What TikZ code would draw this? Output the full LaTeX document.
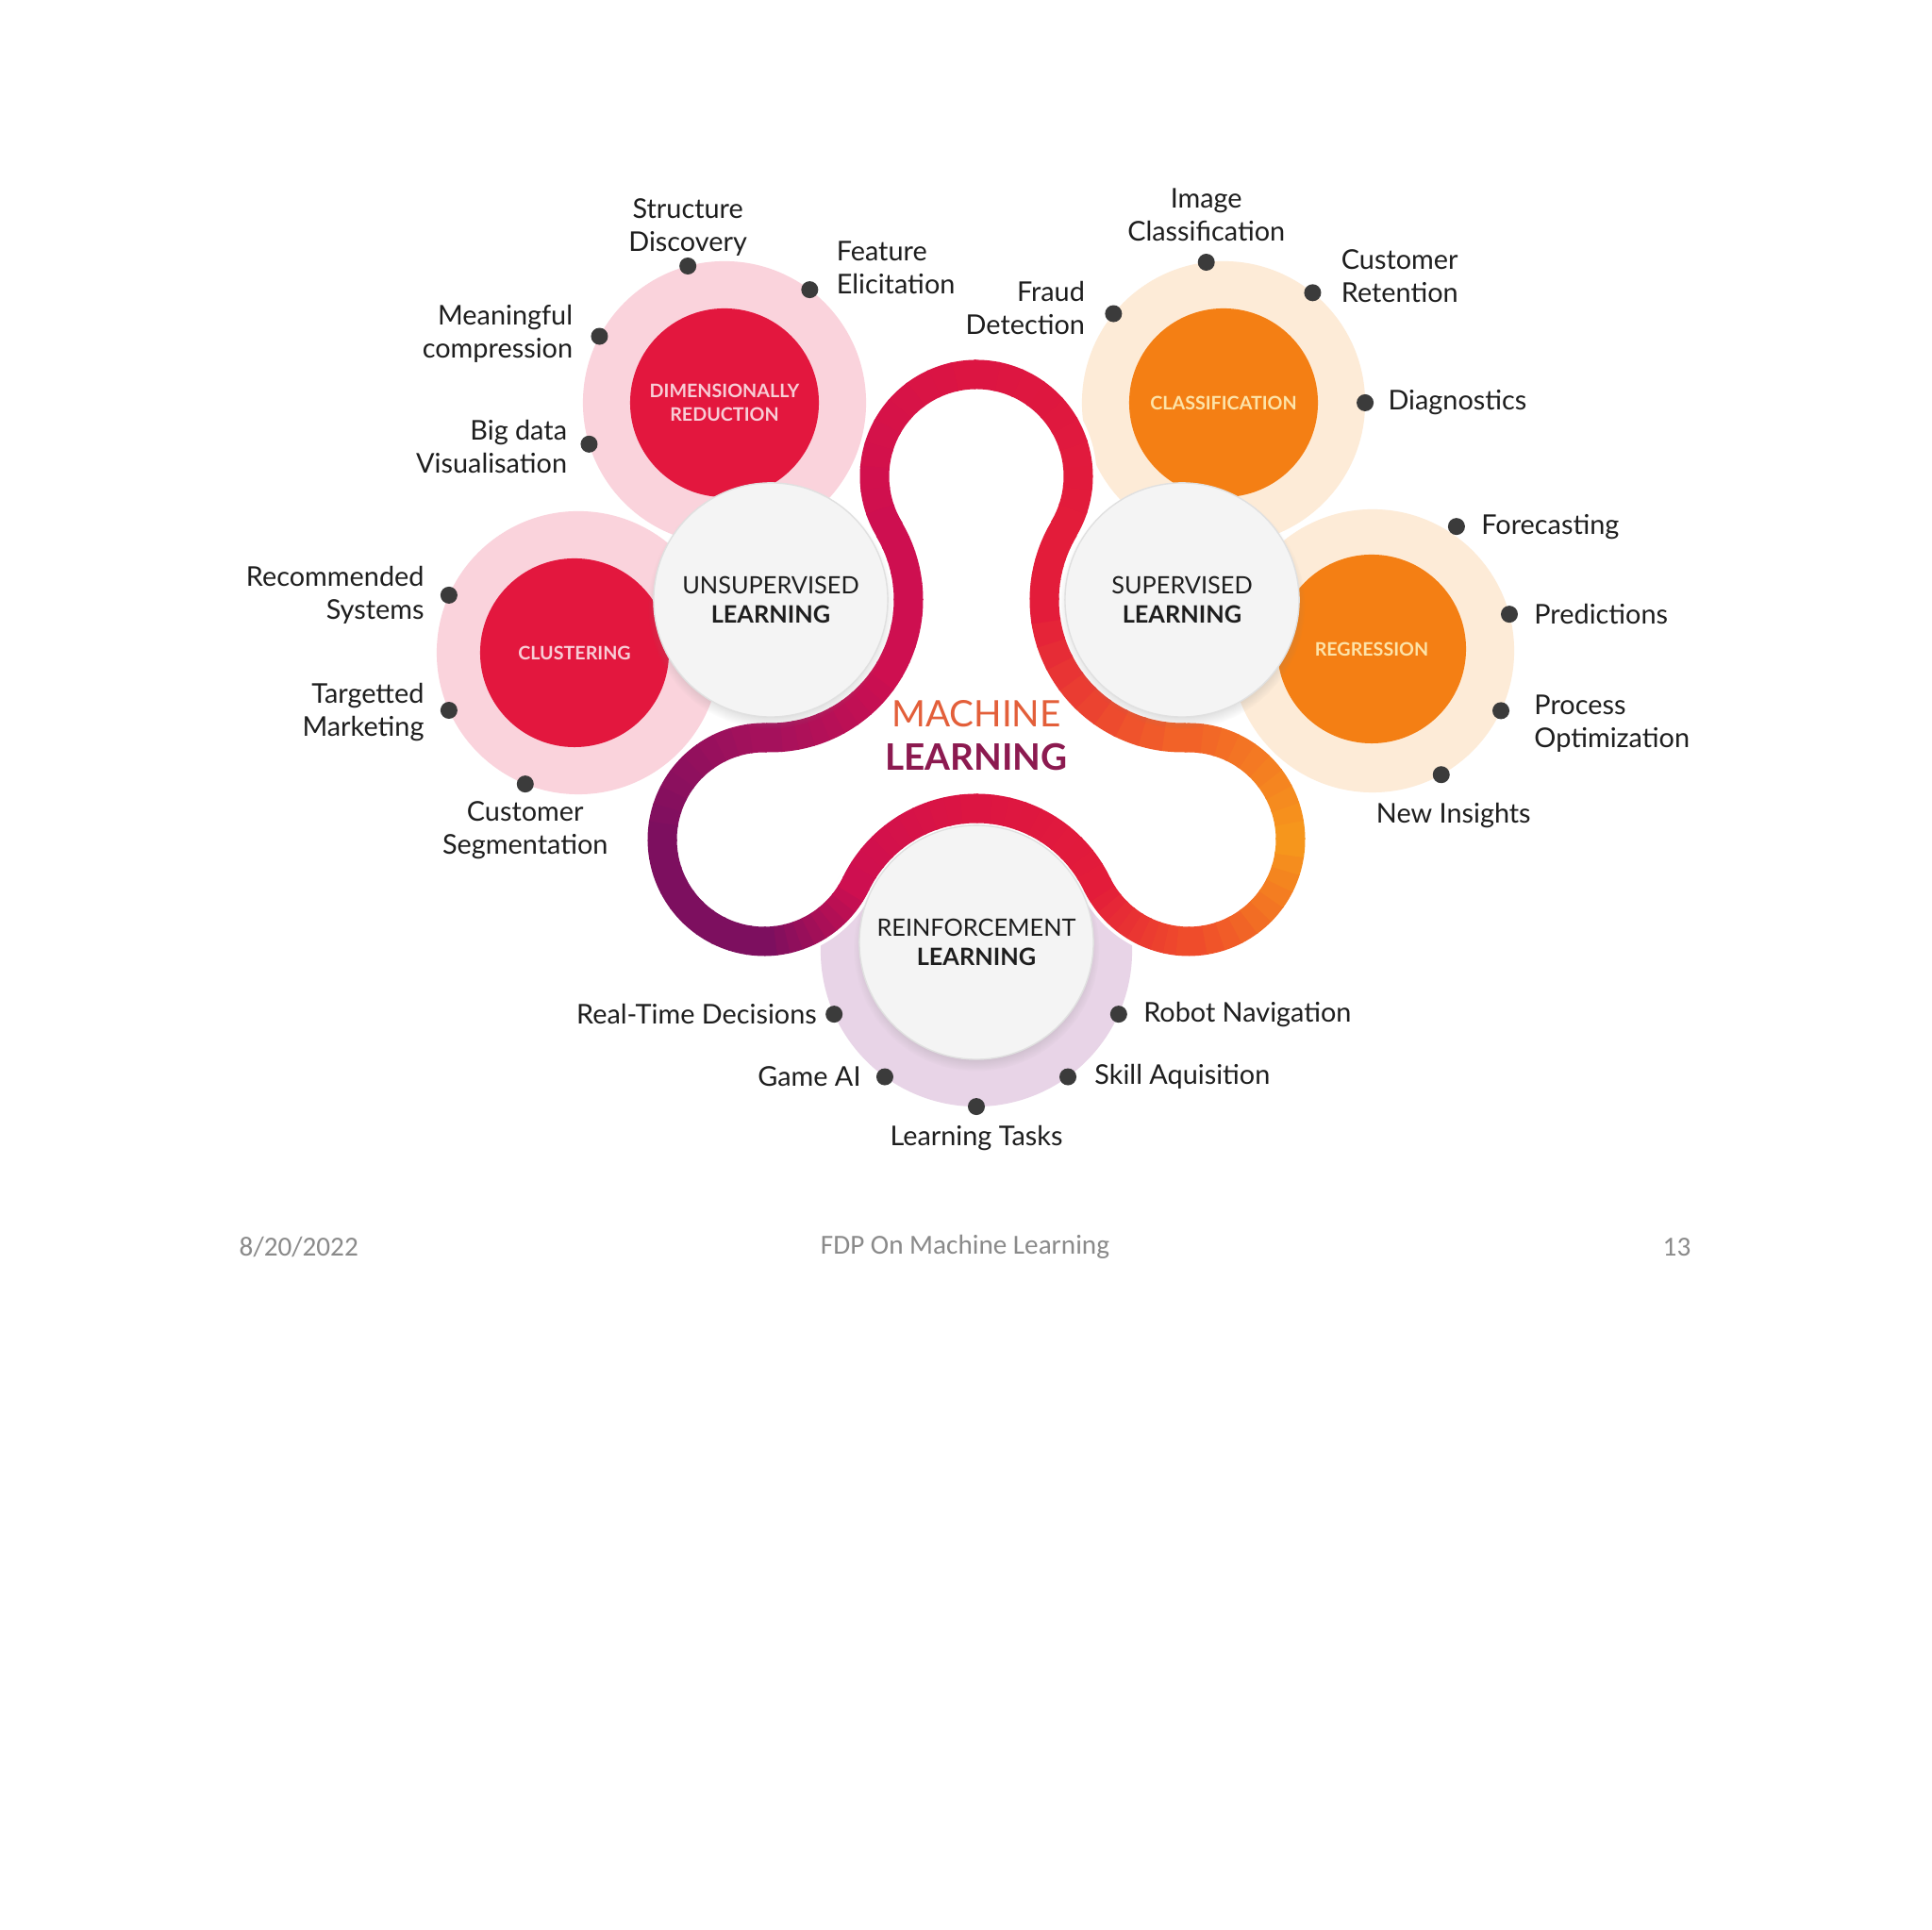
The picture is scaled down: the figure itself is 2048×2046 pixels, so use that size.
\documentclass[tikz,border=0pt]{standalone}
\usepackage{fontspec}
\setmainfont{Lato}
\newfontfamily\footfont{Carlito}
\usetikzlibrary{positioning,calc,shadows}

\definecolor{ink}{HTML}{1E1E1E}
\definecolor{dotc}{HTML}{3B3B3B}
\definecolor{redc}{HTML}{E3173E}
\definecolor{pinkc}{HTML}{FAD3DC}
\definecolor{orc}{HTML}{F47F14}
\definecolor{peachc}{HTML}{FDEBD7}
\definecolor{lavc}{HTML}{E8D4E7}
\definecolor{whc}{HTML}{F4F4F4}
\definecolor{redtxt}{HTML}{F8CDD6}
\definecolor{ortxt}{HTML}{FDE3A8}
\definecolor{mlorange}{HTML}{E35F3A}
\definecolor{mlpurple}{HTML}{8C1A50}
\definecolor{footc}{HTML}{8A8A8A}
% band colours
\definecolor{bRed}{HTML}{E31C3A}
\definecolor{bCrim}{HTML}{DC1542}
\definecolor{bMag}{HTML}{CE0F50}
\definecolor{bPlum}{HTML}{A5115C}
\definecolor{bPurp}{HTML}{7D0F5F}
\definecolor{bOrRed}{HTML}{EF4C2B}
\definecolor{bOr}{HTML}{F6961C}
\definecolor{bOrTop}{HTML}{F26228}

\tikzset{
  halo/.style={circle,minimum size=3cm,inner sep=0pt,outer sep=0pt},
  core/.style={circle,minimum size=2cm,inner sep=0pt,align=center,
    font=\fontsize{5.6}{7.2}\selectfont\bfseries},
  hub/.style={circle,minimum size=2.48cm,inner sep=0pt,fill=whc,draw=black!12,align=center,
    font=\fontsize{7.2}{8.8}\selectfont,text=ink,
    circular drop shadow={shadow xshift=0pt,shadow yshift=-0.6mm,shadow scale=1.05,opacity=0.35}},
  pt/.style={circle,fill=dotc,minimum size=0.18cm,inner sep=0pt},
  lbl/.style={font=\fontsize{8.2}{10}\selectfont,text=ink,inner sep=0pt},
  band/.style={line width=0.31cm,line cap=butt},
  footnote/.style={font=\footfont\fontsize{8.3}{10}\selectfont,text=footc,inner sep=0pt},
}

\begin{document}
\begin{tikzpicture}[x=0.01cm,y=0.01cm]
  \fill[white] (0,0) rectangle (2048,2046);
  \useasboundingbox (0,0) rectangle (2048,2046);

  % centres of the band's arcs: three lobes, three hubs
  \coordinate (T) at (1035,1541);
  \coordinate (L) at (810,1156);
  \coordinate (R) at (1260,1156);
  \coordinate (U) at (817,1410);
  \coordinate (S) at (1253,1410);
  \coordinate (Rc) at (1035,1047);

  % halos
  \node[halo,fill=pinkc] (drh) at ($(U)+(-49,209)$) {};
  \node[halo,fill=pinkc] (clh) at ($(U)+(-204,-56)$) {};
  \node[halo,fill=peachc] (cah) at ($(S)+(44,209)$) {};
  \node[halo,fill=peachc] (rgh) at ($(S)+(202,-54)$) {};
  \node[halo,fill=lavc,minimum size=3.3cm] (rfh) at ($(Rc)+(0,-9)$) {};

  % coloured cores
  \node[core,fill=redc,text=redtxt] (dr) at (drh) {DIMENSIONALLY\\REDUCTION};
  \node[core,fill=redc,text=redtxt] (cl) at ($(U)+(-208,-56)$) {CLUSTERING};
  \node[core,fill=orc,text=ortxt] (ca) at (cah) {CLASSIFICATION};
  \node[core,fill=orc,text=ortxt] (rg) at ($(S)+(201,-52)$) {REGRESSION};

  % the band
  \draw[white,line width=0.39cm]
    ($(T)+(-31:108)$) arc[start angle=-31,end angle=211,radius=108]
    arc[start angle=31,end angle=-91.6,radius=146]
    arc[start angle=88.4,end angle=334.15,radius=108]
    arc[start angle=154.15,end angle=25.85,radius=142]
    arc[start angle=205.85,end angle=451.6,radius=108]
    arc[start angle=271.6,end angle=149,radius=146] -- cycle;
  \foreach \ctr/\rad/\sa/\ea/\ca/\cb in {
      T/108/-31/90/bRed/bCrim, T/108/90/211/bCrim/bMag,
      U/146/31/-30/bMag/bMag, U/146/-30/-91.6/bMag/bPlum,
      L/108/88.4/180/bPlum/bPurp, L/108/180/270/bPurp/bPurp, L/108/270/334.15/bPurp/bMag,
      Rc/142/154.15/90/bMag/bCrim, Rc/142/90/25.85/bCrim/bRed,
      R/108/205.85/270/bRed/bOrRed, R/108/270/360/bOrRed/bOr, R/108/360/451.6/bOr/bOrTop,
      S/146/271.6/180/bOrTop/bRed, S/146/180/149/bRed/bRed}{
    \foreach \kk in {0,...,9}{
      \pgfmathsetmacro{\angA}{\sa+((\ea)-(\sa))*\kk/10}
      \pgfmathsetmacro{\angB}{\sa+((\ea)-(\sa))*(\kk+1.1)/10}
      \pgfmathtruncatemacro{\p}{100*\kk/9}
      \draw[band,draw=\cb!\p!\ca] ($(\ctr)+(\angA:\rad)$) arc[start angle=\angA,end angle=\angB,radius=\rad];
    }
  }

  % hubs
  \node[hub] (unsup) at (U) {UNSUPERVISED\\\textbf{LEARNING}};
  \node[hub] (sup) at (S) {SUPERVISED\\\textbf{LEARNING}};
  \node[hub] (reinf) at (Rc) {REINFORCEMENT\\\textbf{LEARNING}};

  \node[align=center,font=\fontsize{11}{13}\selectfont] (ml) at (1035,1266)
    {\textcolor{mlorange}{MACHINE}\\\textcolor{mlpurple}{\bfseries LEARNING}};

  % dots on the halos
  \node[pt] (sd) at (drh.105) {};
  \node[pt] (fe) at (drh.53) {};
  \node[pt] (mc) at (drh.152) {};
  \node[pt] (bv) at (drh.197) {};
  \node[pt] (rs) at (clh.156) {};
  \node[pt] (tm) at (clh.204) {};
  \node[pt] (cs) at (clh.248) {};
  \node[pt] (ic) at (cah.97) {};
  \node[pt] (fd) at (cah.141) {};
  \node[pt] (cr) at (cah.51) {};
  \node[pt] (dg) at (cah.0) {};
  \node[pt] (fc) at ($(rgh.center)+(56:159)$) {};
  \node[pt] (pr) at (rgh.15) {};
  \node[pt] (po) at (rgh.-25) {};
  \node[pt] (ni) at (rgh.-61) {};
  \node[pt] (rt) at (rfh.204) {};
  \node[pt] (rn) at (rfh.-24) {};
  \node[pt] (ga) at (rfh.234) {};
  \node[pt] (sa) at (rfh.-54) {};
  \node[pt] (lt) at (rfh.270) {};

  % labels
  \node[lbl,align=center,above=0cm of sd] {Structure\\Discovery};
  \node[lbl,align=left,right=0.18cm of fe,yshift=0.23cm] {Feature\\Elicitation};
  \node[lbl,align=right,left=0.18cm of mc,yshift=0.03cm] {Meaningful\\compression};
  \node[lbl,align=right,left=0.13cm of bv,yshift=-0.03cm] {Big data\\Visualisation};
  \node[lbl,align=right,left=0.16cm of rs] {Recommended\\Systems};
  \node[lbl,align=right,left=0.16cm of tm,yshift=-0.02cm] {Targetted\\Marketing};
  \node[lbl,align=center,below=0.08cm of cs] {Customer\\Segmentation};
  \node[lbl,align=center,above=0.12cm of ic] {Image\\Classification};
  \node[lbl,align=right,left=0.2cm of fd,yshift=0.06cm] {Fraud\\Detection};
  \node[lbl,align=left,right=0.2cm of cr,yshift=0.18cm] {Customer\\Retention};
  \node[lbl,right=0.14cm of dg] {Diagnostics};
  \node[lbl,right=0.16cm of fc] {Forecasting};
  \node[lbl,right=0.16cm of pr] {Predictions};
  \node[lbl,align=left,right=0.25cm of po,yshift=-0.14cm] {Process\\Optimization};
  \node[lbl,below=0.2cm of ni,xshift=0.13cm] {New Insights};
  \node[lbl,left=0.08cm of rt] {Real-Time Decisions};
  \node[lbl,right=0.16cm of rn] {Robot Navigation};
  \node[lbl,left=0.15cm of ga] {Game AI};
  \node[lbl,right=0.18cm of sa] {Skill Aquisition};
  \node[lbl,below=0.1cm of lt] {Learning Tasks};

  % footer
  \node[footnote,anchor=west] (date) at (253,724) {8/20/2022};
  \node[footnote] (title) at (1023,724) {FDP On Machine Learning};
  \node[footnote,anchor=east] (page) at (1793,724) {13};
\end{tikzpicture}
\end{document}
